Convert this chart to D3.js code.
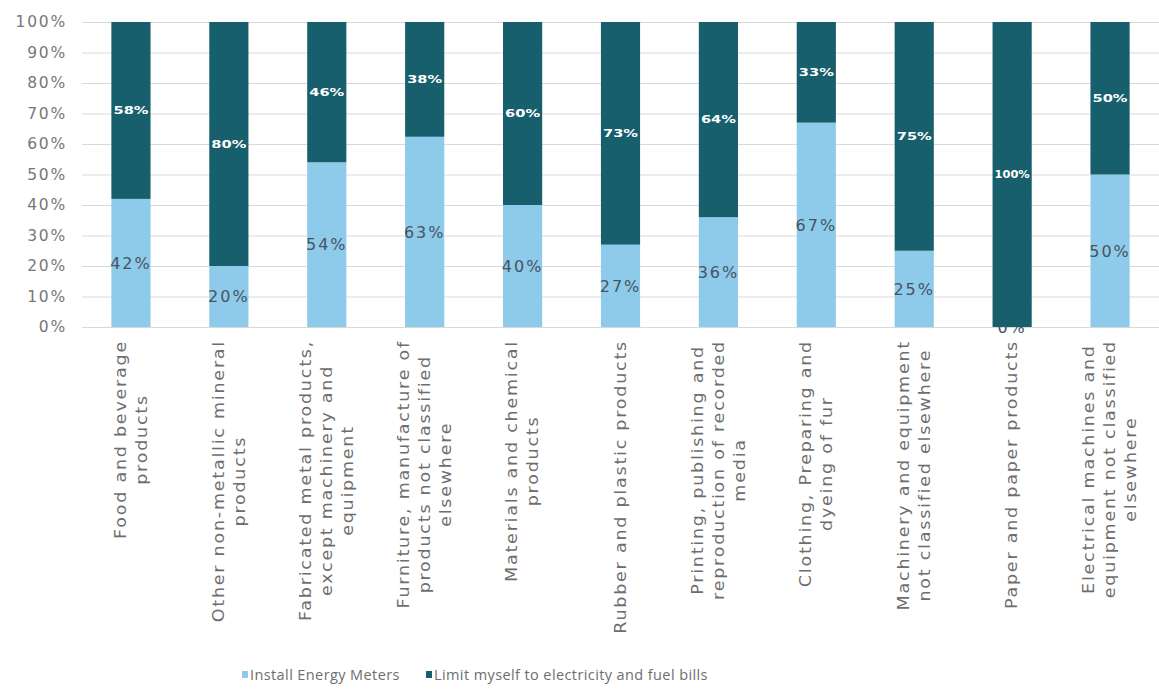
<!DOCTYPE html>
<html>
<head>
<meta charset="utf-8">
<script src="https://cdn.jsdelivr.net/npm/d3@7"></script>
<style>
  html, body { margin: 0; padding: 0; background: #ffffff; }
  svg { display: block; }
</style>
</head>
<body>
<svg id="chart" width="1159" height="691"></svg>
<script>
// Industry sectors (x-axis labels, pre-wrapped into lines)
const categories = [
  ["Food and beverage", "products"],
  ["Other non-metallic mineral", "products"],
  ["Fabricated metal products,", "except machinery and", "equipment"],
  ["Furniture, manufacture of", "products not classified", "elsewhere"],
  ["Materials and chemical", "products"],
  ["Rubber and plastic products"],
  ["Printing, publishing and", "reproduction of recorded", "media"],
  ["Clothing, Preparing and", "dyeing of fur"],
  ["Machinery and equipment", "not classified elsewhere"],
  ["Paper and paper products"],
  ["Electrical machines and", "equipment not classified", "elsewhere"]
];

// Share of respondents (%) per answer
const installMeters = [42, 20, 54, 63, 40, 27, 36, 67, 25, 0, 50];
const limitToBills  = [58, 80, 46, 38, 60, 73, 64, 33, 75, 100, 50];

const seriesNames = ["Install Energy Meters", "Limit myself to electricity and fuel bills"];
const yTicks = [0, 10, 20, 30, 40, 50, 60, 70, 80, 90, 100];

const colors = ["#8ecbea", "#175f6d"];
const textGray = "#6e6e6e";

const svg = d3.select("#chart");
const margin = { left: 82, right: 0, top: 22, bottom: 364 };
const W = 1159, H = 691;
const plotBottom = H - margin.bottom; // 327

const x = d3.scaleBand()
  .domain(d3.range(categories.length))
  .range([margin.left, W - margin.right])
  .paddingInner(0.6)
  .paddingOuter(0.3);

const y = d3.scaleLinear().domain([0, 100]).range([plotBottom, margin.top]);

// Gridlines
svg.append("g")
  .selectAll("line")
  .data(yTicks)
  .join("line")
  .attr("x1", margin.left)
  .attr("x2", W - margin.right)
  .attr("y1", d => y(d) + 0.5)
  .attr("y2", d => y(d) + 0.5)
  .attr("stroke", "#d9d9d9")
  .attr("stroke-width", 1.2);

// Y axis labels
const yAxis = d3.axisLeft(y).tickValues(yTicks).tickFormat(d => d + "%").tickSize(0).tickPadding(15);
const yg = svg.append("g").attr("transform", `translate(${margin.left},0)`).call(yAxis);
yg.select(".domain").remove();
yg.selectAll("text")
  .attr("fill", "#777777")
  .style("font-family", "'DejaVu Sans', sans-serif")
  .style("font-size", "15.5px")
  .style("letter-spacing", "1.8px");

// Stacked bars, normalised to 100%
const rows = categories.map((c, i) => ({ i, a: installMeters[i], b: limitToBills[i] }));
const stack = d3.stack().keys(["a", "b"]).offset(d3.stackOffsetExpand);
const layers = stack(rows);
const bw = x.bandwidth();
const mid = d => y((d[0] + d[1]) / 2 * 100);

function drawRects(layer, k) {
  svg.append("g")
    .attr("fill", colors[k])
    .selectAll("rect")
    .data(layer)
    .join("rect")
    .attr("x", d => x(d.data.i))
    .attr("width", bw)
    .attr("y", d => y(d[1] * 100))
    .attr("height", d => y(d[0] * 100) - y(d[1] * 100));
}

// Light segments and their labels (larger, dark gray)
drawRects(layers[0], 0);
svg.append("g")
  .selectAll("text")
  .data(layers[0])
  .join("text")
  .attr("x", d => x(d.data.i) + bw / 2)
  .attr("y", mid)
  .attr("dy", "0.36em")
  .attr("text-anchor", "middle")
  .attr("fill", "#46545e")
  .style("font-family", "'DejaVu Sans', sans-serif")
  .style("font-size", "16px")
  .style("letter-spacing", "2px")
  .text(d => d.data.a + "%");

// Dark segments and their labels (small, white, widened to the bar)
drawRects(layers[1], 1);
svg.append("g")
  .selectAll("text")
  .data(layers[1])
  .join("text")
  .attr("x", d => x(d.data.i) + bw / 2)
  .attr("y", mid)
  .attr("dy", "0.36em")
  .attr("text-anchor", "middle")
  .attr("fill", "#ffffff")
  .style("font-family", "'DejaVu Sans', sans-serif")
  .style("font-size", "10px")
  .style("font-weight", "bold")
  .text(d => d.data.b + "%")
  .each(function () {
    const w = this.getComputedTextLength();
    this.setAttribute("textLength", Math.min(35, w * 1.5));
    this.setAttribute("lengthAdjust", "spacingAndGlyphs");
  });

// Rotated category labels: block top-aligned, lines centred on each other
const lineH = 21;
const catG = svg.append("g");
categories.forEach((lines, i) => {
  const cx = x(i) + bw / 2;
  const g = catG.append("g").attr("transform", `translate(${cx},340) rotate(-90) scale(1.17,1)`);
  const texts = lines.map((t, k) =>
    g.append("text")
      .attr("text-anchor", "middle")
      .attr("y", (k - (lines.length - 1) / 2) * lineH)
      .attr("dy", "0.35em")
      .attr("fill", textGray)
      .style("font-family", "'DejaVu Sans', sans-serif")
      .style("font-size", "15px")
      .style("letter-spacing", "1.5px")
      .text(t)
  );
  const maxW = d3.max(texts, t => t.node().getComputedTextLength());
  texts.forEach(t => t.attr("x", -maxW / 2));
});

// Legend
const legend = svg.append("g").attr("transform", "translate(242,675)");
const legendX = [0, 184];
seriesNames.forEach((name, k) => {
  const g = legend.append("g").attr("transform", `translate(${legendX[k]},0)`);
  g.append("rect").attr("x", 0).attr("y", -4).attr("width", 6).attr("height", 7).attr("fill", colors[k]);
  g.append("text")
    .attr("x", 8)
    .attr("dy", "0.35em")
    .attr("fill", textGray)
    .style("font-family", "'Open Sans', sans-serif")
    .style("font-size", "14.5px")
    .style("letter-spacing", "0.4px")
    .text(name);
});
</script>
</body>
</html>
